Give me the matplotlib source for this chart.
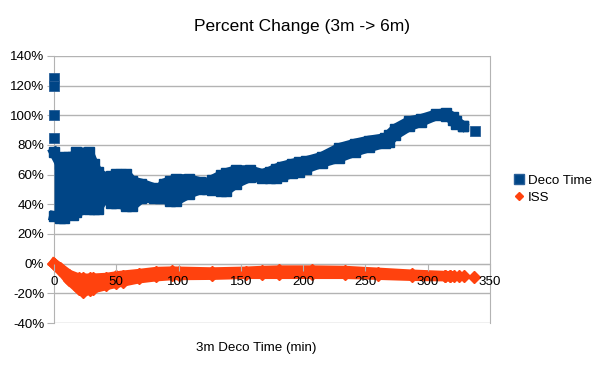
import matplotlib
matplotlib.use("Agg")
import matplotlib.pyplot as plt
from matplotlib.lines import Line2D
from matplotlib.ticker import FuncFormatter

deco_x = [0, 5, 8, 15, 18, 28, 32, 35, 40, 46, 50, 58, 63, 70, 80, 85, 88, 93,
          98, 108, 117, 123, 127, 134, 138, 146, 157, 167, 173, 178, 183, 191,
          197, 202, 215, 229, 242, 253, 266, 269, 274, 285, 295, 307, 315, 320,
          323, 328]
deco_hi = [75, 67, 72, 72, 75, 75, 67, 62, 58.5, 59, 60.5, 60.5, 55.5, 54, 51,
           50, 54, 55.5, 57, 57, 55, 54.5, 56.5, 59.5, 61, 63, 63, 60.5, 62, 64,
           65.5, 67.3, 68.4, 69, 72, 78, 81, 83, 84.6, 87, 91, 96, 97.6, 100.7,
           101.4, 99, 96, 93]
deco_lo = [32, 31, 31, 33, 35, 37, 37, 37, 44, 41, 41, 39, 39, 44, 44.4, 44,
           44, 42.4, 42.4, 47, 50, 50, 49.5, 49, 49, 54, 58.3, 58, 58, 58, 58.8,
           61, 62.1, 64, 68, 71.5, 75.6, 78.5, 81.5, 82.3, 86.8, 92.5, 95.8, 100,
           99.8, 97, 94, 93]
deco_out_x = [0, 0, 0, 0, 338]
deco_out_y = [125, 120, 100, 85, 89.5]

# ISS band (percent)
iss_x = [0, 5, 12, 20, 23, 29, 31, 42, 50, 55, 68, 82, 95, 100, 127, 154, 167,
         181, 207, 234, 260, 287, 314, 318]
iss_hi = [0, -3, -7.4, -10, -10, -10, -10, -9.5, -8.5, -8, -6.9, -5.5, -5.2,
          -5.3, -5.8, -5.3, -4.8, -4.5, -4.5, -4.8, -6, -7.3, -8.2, -8.3]
iss_lo = [0, -4, -11, -17, -19, -17.5, -16.8, -14.5, -13, -12.2, -10,
          -8.6, -7.8, -7.8, -7.6, -7, -7, -7, -7, -7, -7.6, -8.3,
          -8.6, -8.5]
iss_out_x = [321, 325, 329, 337]
iss_out_y = [-8, -8, -8.2, -9]

blue = '#004586'
orange = '#ff420e'
grid_c = '#b3b3b3'

plt.rcParams['font.family'] = ['Liberation Sans', 'DejaVu Sans']

fig = plt.figure(figsize=(6.05, 3.75), dpi=100)
ax = fig.add_axes([54 / 605, 1 - 323 / 375, 436 / 605, 267 / 375])

ms = 7.5
lw = 7.2

# blue band
ax.fill_between(deco_x, deco_lo, deco_hi, color=blue, lw=0, zorder=3)
for yy in (deco_hi, deco_lo):
    ax.plot(deco_x, yy, color=blue, lw=lw, marker='s', ms=ms,
            solid_joinstyle='bevel', zorder=3, clip_on=False)
ax.plot(deco_out_x, deco_out_y, ls='none', marker='s', ms=ms, color=blue,
        mec='#2a6099', mew=0.6, zorder=3, clip_on=False)

# orange band
ax.fill_between(iss_x, iss_lo, iss_hi, color=orange, lw=0, zorder=3)
for yy in (iss_hi, iss_lo):
    ax.plot(iss_x, yy, color=orange, lw=lw, marker='D', ms=ms * 0.75,
            solid_joinstyle='bevel', zorder=3, clip_on=False)
ax.plot(iss_out_x, iss_out_y, ls='none', marker='D', ms=ms * 0.75,
        color=orange, zorder=3, clip_on=False)

ax.set_xlim(0, 350)
ax.set_ylim(-40, 140)
ax.set_yticks(range(-40, 141, 20))
ax.yaxis.set_major_formatter(FuncFormatter(lambda v, p: '%d%%' % v))
ax.set_xticks(range(0, 351, 50))
ax.grid(axis='y', color=grid_c, lw=1)
ax.set_axisbelow(True)
ax.xaxis.set_zorder(5)  # x labels drawn over the ISS band

for s in ax.spines.values():
    s.set_color(grid_c)
ax.spines['top'].set_visible(False)
# x axis sits on the 0% line
ax.spines['bottom'].set_position(('data', 0))
ax.tick_params(colors=grid_c, labelcolor='#000000', length=5,
               labelsize=9.6, pad=2)
ax.tick_params(axis='x', pad=4)

fig.text(302 / 605, 1 - 27 / 375, 'Percent Change (3m -> 6m)', ha='center',
         va='center', fontsize=12.5)
fig.text(256 / 605, 1 - 348 / 375, '3m Deco Time (min)', ha='center',
         va='center', fontsize=9.6)

handles = [Line2D([], [], ls='none', marker='s', ms=6.5, color=blue,
                  mec='#2a6099'),
           Line2D([], [], ls='none', marker='D', ms=4.5, color=orange)]
fig.legend(handles, ['Deco Time', 'ISS'], loc='center left',
           bbox_to_anchor=(508 / 605, 1 - 189 / 375), frameon=False,
           fontsize=9.6, handlelength=0.6, handletextpad=0.4,
           labelspacing=0.35, borderpad=0)

fig.savefig('out.png', dpi=100)
